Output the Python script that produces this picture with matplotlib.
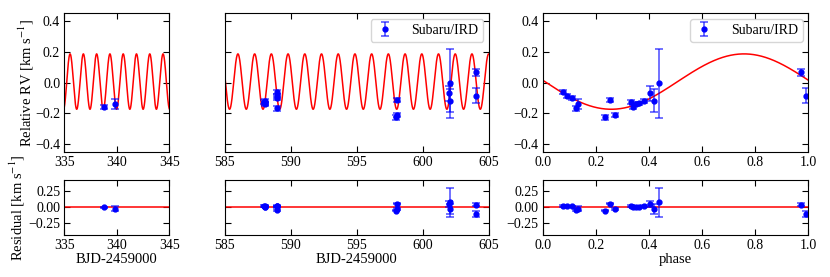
import numpy as np
import matplotlib.pyplot as plt

plt.rcParams['font.family'] = ['Liberation Serif', 'DejaVu Serif']
plt.rcParams['mathtext.fontset'] = 'stix'
plt.rcParams['font.size'] = 10

# orbital model (period, reference epoch, systemic offset, semi-amplitude)
P = 1.2649
T0 = 334.591
gamma = 0.006
K = 0.18
ph_shift = 0.008

# Subaru/IRD radial velocities, BJD-2459000
bjd = np.array([338.817, 339.818,
                587.990, 588.014, 588.032, 588.053,
                588.931, 588.954, 588.974, 588.994,
                597.987, 598.010, 598.034,
                601.996, 602.016, 602.039,
                603.982, 604.002])
rv = np.array([-0.161, -0.140,
               -0.129, -0.140, -0.136, -0.120,
               -0.064, -0.086, -0.103, -0.168,
               -0.227, -0.114, -0.211,
               -0.070, -0.118, -0.005,
               0.066, -0.086])
rv_err = np.array([0.012, 0.035,
                   0.012, 0.012, 0.012, 0.015,
                   0.012, 0.012, 0.012, 0.015,
                   0.015, 0.015, 0.015,
                   0.050, 0.075, 0.225,
                   0.025, 0.048])
resid = np.array([0.00, -0.02,
                  0.025, 0.01, 0.01, 0.015,
                  0.02, 0.015, 0.015, -0.035,
                  -0.05, 0.06, -0.03,
                  0.05, -0.03, 0.08,
                  0.04, -0.10])


def model_phase(ph):
    return gamma - K * np.sin(2 * np.pi * (ph - ph_shift))


def model_time(t):
    return model_phase((t - T0) / P)


phase = ((bjd - T0) / P) % 1.0

W, H = 830, 277


def box(x0, x1, y0, y1):
    return [x0 / W, 1 - y1 / H, (x1 - x0) / W, (y1 - y0) / H]


fig = plt.figure(figsize=(W / 100, H / 100), dpi=100)
cols = [(64.3, 169.3), (224.7, 489.0), (542.7, 808.3)]
top = [fig.add_axes(box(a, b, 13.3, 151.7)) for a, b in cols]
bot = [fig.add_axes(box(a, b, 180.0, 234.7)) for a, b in cols]

xlims = [(335, 345), (585, 605), (0.0, 1.0)]
ebkw = dict(fmt='o', color='blue', ecolor=(0, 0, 1, 0.65), ms=3.5,
            capsize=3, elinewidth=1.2, capthick=1.2, label='Subaru/IRD')

for i in range(3):
    at, ab = top[i], bot[i]
    lo, hi = xlims[i]
    xx = np.linspace(lo, hi, 3000)
    if i < 2:
        at.plot(xx, model_time(xx), color='red', lw=1.1)
        x = bjd
    else:
        at.plot(xx, model_phase(xx), color='red', lw=1.1)
        x = phase
    at.errorbar(x, rv, yerr=rv_err, **ebkw)
    ab.axhline(0, color='red', lw=1.1)
    ab.errorbar(x, resid, yerr=rv_err, **ebkw)

    for ax in (at, ab):
        ax.set_xlim(lo, hi)
        ax.tick_params(direction='in', top=True, right=True, length=4,
                       labelsize=10, pad=3)
    at.set_ylim(-0.45, 0.45)
    at.set_yticks([-0.4, -0.2, 0.0, 0.2, 0.4])
    ab.set_ylim(-0.43, 0.43)
    ab.set_yticks([-0.25, 0.0, 0.25])
    ab.set_yticklabels(['\u22120.25', '0.00', '0.25'])
    if i == 1:
        at.set_yticklabels([])
        ab.set_yticklabels([])
    if i == 2:
        at.set_xticks([0, 0.2, 0.4, 0.6, 0.8, 1.0])
        ab.set_xticks([0, 0.2, 0.4, 0.6, 0.8, 1.0])
    if i >= 1:
        at.legend(loc='upper right', fontsize=10, handlelength=1.3,
                  handletextpad=1.3, borderpad=0.35, borderaxespad=0.4)

top[0].set_ylabel('Relative RV [km s$^{-1}$]', fontsize=10.5)
top[0].yaxis.set_label_coords(-0.27, 0.5)
bot[0].set_ylabel('Residual [km s$^{-1}$]', fontsize=10.5)
bot[0].yaxis.set_label_coords(-0.36, 0.5)
bot[0].set_xlabel('BJD-2459000', fontsize=10.5, labelpad=1)
bot[1].set_xlabel('BJD-2459000', fontsize=10.5, labelpad=1)
bot[2].set_xlabel('phase', fontsize=10.5, labelpad=1)

fig.savefig('out.png', dpi=100)
